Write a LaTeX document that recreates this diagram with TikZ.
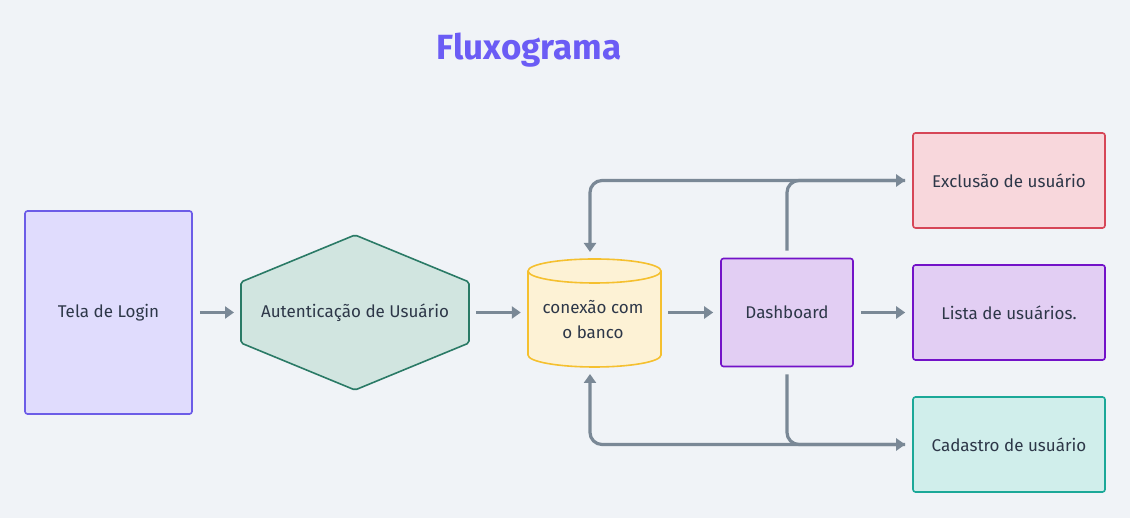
\documentclass[tikz,border=0pt]{standalone}
\usepackage{fontspec}
\setmainfont{Fira Sans}
\usetikzlibrary{arrows.meta}
\definecolor{bg}{HTML}{F0F3F7}
\definecolor{txt}{HTML}{2D3748}
\definecolor{arr}{HTML}{7A8896}
\definecolor{titlec}{HTML}{6B5CF5}
\definecolor{loginF}{HTML}{E0DCFD}\definecolor{loginD}{HTML}{6C5CE7}
\definecolor{hexF}{HTML}{D1E5E0}\definecolor{hexD}{HTML}{2A7A66}
\definecolor{cylF}{HTML}{FDF2D5}\definecolor{cylD}{HTML}{F5C02F}
\definecolor{purF}{HTML}{E2CEF3}\definecolor{purD}{HTML}{7312C8}
\definecolor{redF}{HTML}{F8D7DC}\definecolor{redD}{HTML}{D64657}
\definecolor{grnF}{HTML}{D0EEEB}\definecolor{grnD}{HTML}{1BA898}
\tikzset{
  box/.style={rectangle, rounded corners=2.5pt, line width=1.6pt, inner sep=0pt, text=txt, font=\fontsize{17}{20}\selectfont, align=center},
  conn/.style={draw=arr, line width=3.2pt, -{Triangle[length=9pt,width=12pt]}, shorten >=7pt, shorten <=7pt},
  loopc/.style={conn, rounded corners=12pt},
}
\begin{document}
\begin{tikzpicture}[x=1pt,y=1pt]
\fill[bg] (0,0) rectangle (1130,518);
\useasboundingbox (0,0) rectangle (1130,518);
\node[text=titlec, font=\fontsize{35}{40}\selectfont\bfseries] (title) at (529,468) {Fluxograma};
% Login
\node[box, fill=loginF, draw=loginD, minimum width=167pt, minimum height=203pt] (login) at (108.5,205.5) {Tela de Login};
% Hexagon
\draw[fill=hexF, draw=hexD, line width=1.6pt, rounded corners=2pt] (355,283) -- (469,236) -- (469,175) -- (355,128) -- (241,175) -- (241,236) -- cycle;
\node[inner sep=0pt, minimum width=228pt, minimum height=155pt, text=txt, font=\fontsize{17}{20}\selectfont] (auth) at (355,205.5) {Autenticação de Usuário};
% Cylinder
\draw[fill=cylF, draw=cylD, line width=1.6pt] (528,247) -- (528,163) arc[start angle=180, end angle=360, x radius=66.5, y radius=12] -- (661,247) arc[start angle=0, end angle=180, x radius=66.5, y radius=12] -- cycle;
\draw[draw=cylD, line width=1.6pt] (528,247) arc[start angle=180, end angle=360, x radius=66.5, y radius=12];
\node[inner sep=0pt, minimum width=133pt, minimum height=108pt] (db) at (594.5,205.5) {};
\node[text=txt, font=\fontsize{17}{25}\selectfont, align=center] (dbtext) at (593,198.5) {conexão com\\o banco};
\coordinate (dbn) at (590,259);
\coordinate (dbs) at (590,151);
% Dashboard
\node[box, fill=purF, draw=purD, minimum width=132pt, minimum height=108pt] (dash) at (787,205.5) {Dashboard};
% Right boxes
\node[box, fill=redF, draw=redD, minimum width=192pt, minimum height=95pt] (excl) at (1009,337.5) {Exclusão de usuário};
\node[box, fill=purF, draw=purD, minimum width=192pt, minimum height=95pt] (lista) at (1009,205.5) {Lista de usuários.};
\node[box, fill=grnF, draw=grnD, minimum width=192pt, minimum height=95pt] (cad) at (1009,73.5) {Cadastro de usuário};
% connectors
\draw[conn] (login.east) -- (241,205.5);
\draw[conn] (469,205.5) -- (db.west);
\draw[conn] (db.east) -- (dash.west);
\draw[conn] (dash.east) -- (lista.west);
\draw[loopc] (dash.north) |- (excl.west);
\draw[loopc] (excl.west) -| (dbn);
\draw[loopc] (dash.south) |- (cad.west);
\draw[loopc] (cad.west) -| (dbs);
\end{tikzpicture}
\end{document}
